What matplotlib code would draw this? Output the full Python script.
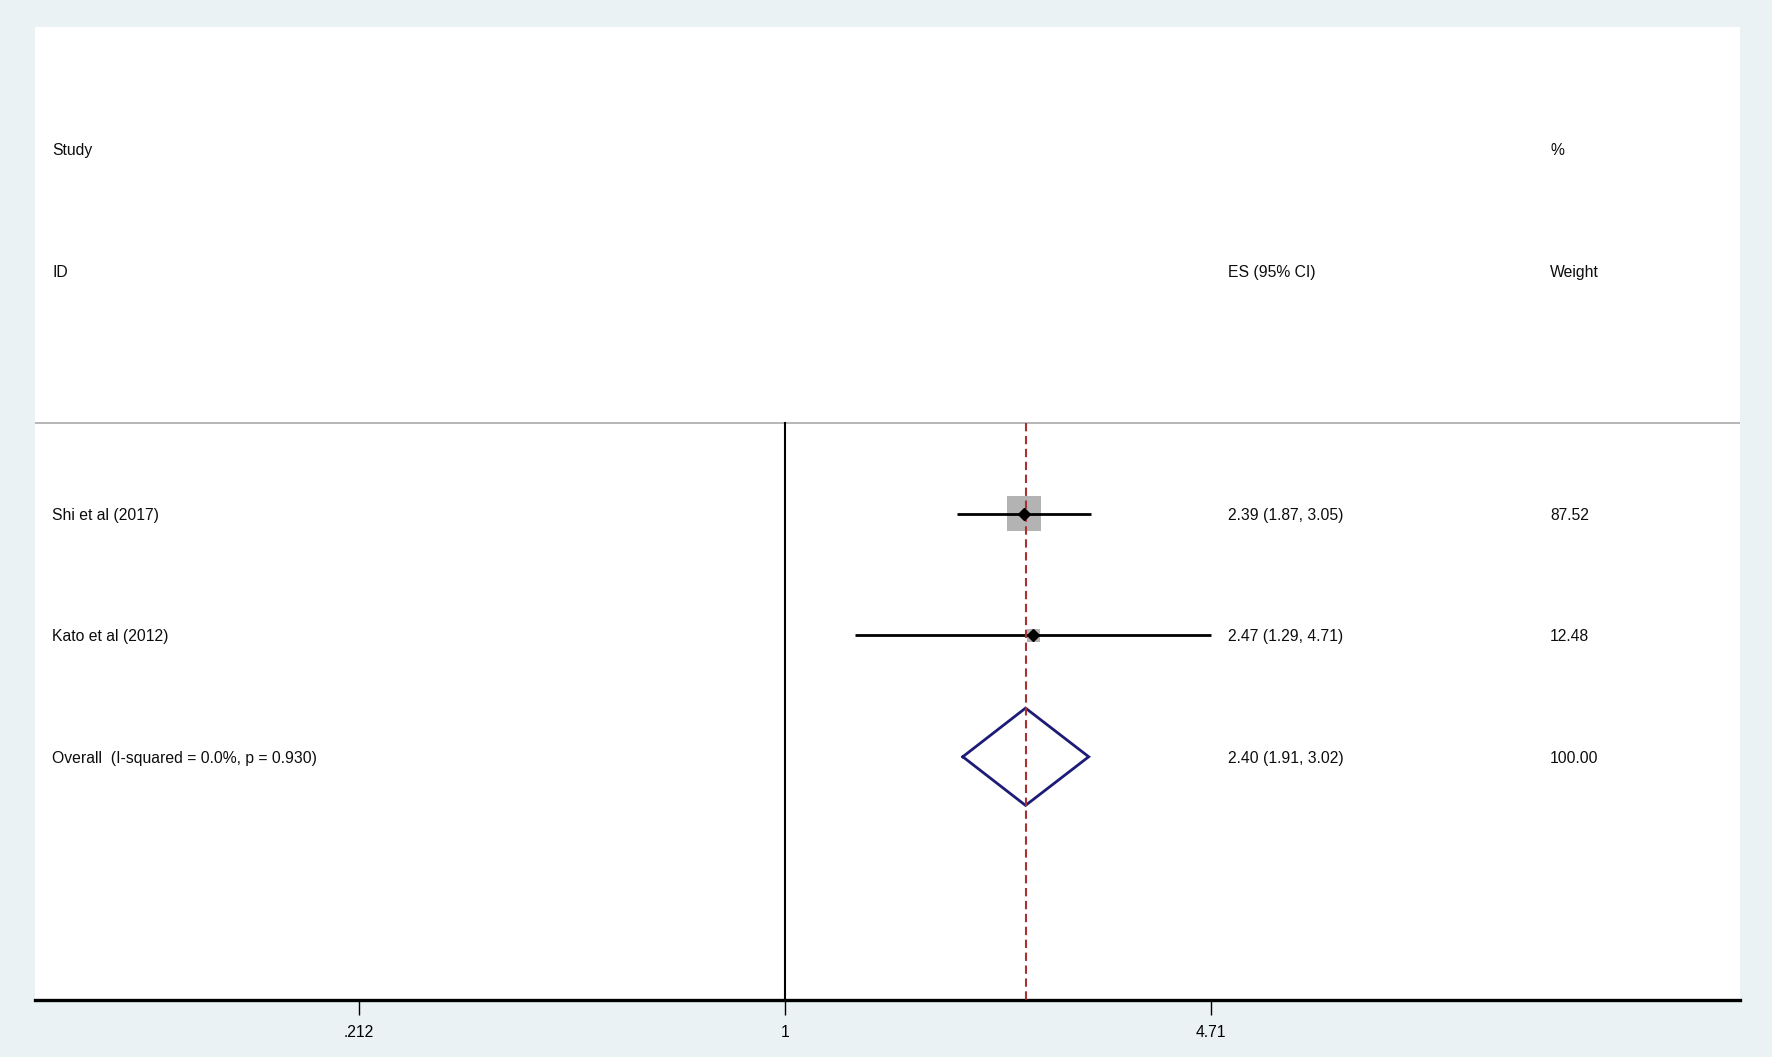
import matplotlib
matplotlib.use("Agg")
import matplotlib.pyplot as plt
import matplotlib.transforms as mtransforms
import numpy as np

plt.rcParams['font.family'] = ['Liberation Sans', 'DejaVu Sans']

# ---------------- data ----------------
studies = ["Shi et al (2017)", "Kato et al (2012)"]
es = [2.39, 2.47]
ci_low = [1.87, 1.29]
ci_high = [3.05, 4.71]
weights = [87.52, 12.48]

overall_label = "Overall  (I-squared = 0.0%, p = 0.930)"
overall_es = 2.40
overall_low = 1.91
overall_high = 3.02
overall_weight = 100.00

tick_values = [0.212, 1, 4.71]
tick_labels = [".212", "1", "4.71"]

header_top = ["Study", "", "%"]
header_bottom = ["ID", "ES (95% CI)", "Weight"]

# ---------------- layout ----------------
W, H = 1772, 1057
BG = "#EAF2F3"
fig = plt.figure(figsize=(W / 100, H / 100), dpi=100, facecolor=BG)
left_px, right_px, top_px, bot_px = 35, 1740, 27, 1000
ax = fig.add_axes([left_px / W, 1 - bot_px / H, (right_px - left_px) / W, (bot_px - top_px) / H])
ax.set_facecolor("white")
ax.set_xscale("log")
ax.set_xlim(0.0653, 32.3)
ax.set_ylim(5, -3)

for s in ["top", "left", "right"]:
    ax.spines[s].set_visible(False)
ax.spines["bottom"].set_linewidth(2.4)
ax.spines["bottom"].set_color("black")
ax.set_yticks([])
ax.xaxis.set_minor_locator(matplotlib.ticker.NullLocator())
ax.set_xticks(tick_values)
ax.set_xticklabels(tick_labels, fontsize=11.3)
ax.tick_params(axis="x", direction="out", length=11, width=1.0, pad=7, colors="black")

rows = np.arange(1, len(studies) + 1)
overall_row = len(studies) + 1
header_line_y = 0.26

# header separator
ax.axhline(header_line_y, color="#b5b5b5", lw=1.4, zorder=1)
# null line
ax.plot([1, 1], [header_line_y, 5], color="black", lw=1.5, zorder=2, clip_on=False)
# overall effect line
ax.plot([overall_es, overall_es], [header_line_y, 5], color="#a83232", lw=1.5,
        dashes=(4, 2.2), zorder=5, clip_on=False)

# weight squares
ax.scatter(es, rows, s=[w * 6.86 for w in weights], marker="s", color="#b3b3b3",
           linewidths=0, zorder=3)
# CI lines
for y, lo, hi in zip(rows, ci_low, ci_high):
    ax.plot([lo, hi], [y, y], color="black", lw=2.0, zorder=4, solid_capstyle="butt")
# point estimates
ax.plot(es, rows, linestyle="none", marker="D", color="black", markersize=6, zorder=6)

# overall diamond
dh = 0.4
ax.plot([overall_low, overall_es, overall_high, overall_es, overall_low],
        [overall_row, overall_row - dh, overall_row, overall_row + dh, overall_row],
        color="#1c1c78", lw=2.0, zorder=4, solid_joinstyle="miter")

# text columns (x in axes fraction, y in data)
tr = mtransforms.blended_transform_factory(ax.transAxes, ax.transData)
col_x = [0.010, 0.6997, 0.8886]
fs = 11.35
tc = "#0d0d0d"
dy = 0.015
for x, t in zip(col_x, header_top):
    if t:
        ax.text(x, -2 + dy, t, transform=tr, fontsize=fs, va="center", ha="left", color=tc)
for x, t in zip(col_x, header_bottom):
    ax.text(x, -1 + dy, t, transform=tr, fontsize=fs, va="center", ha="left", color=tc)

for y, name, e, lo, hi, w in zip(rows, studies, es, ci_low, ci_high, weights):
    ax.text(col_x[0], y + dy, name, transform=tr, fontsize=fs, va="center", ha="left", color=tc)
    ax.text(col_x[1], y + dy, f"{e:.2f} ({lo:.2f}, {hi:.2f})", transform=tr, fontsize=fs,
            va="center", ha="left", color=tc)
    ax.text(col_x[2], y + dy, f"{w:.2f}", transform=tr, fontsize=fs, va="center", ha="left", color=tc)

ax.text(col_x[0], overall_row + dy, overall_label, transform=tr, fontsize=fs, va="center",
        ha="left", color=tc)
ax.text(col_x[1], overall_row + dy, f"{overall_es:.2f} ({overall_low:.2f}, {overall_high:.2f})",
        transform=tr, fontsize=fs, va="center", ha="left", color=tc)
ax.text(col_x[2], overall_row + dy, f"{overall_weight:.2f}", transform=tr, fontsize=fs,
        va="center", ha="left", color=tc)

fig.savefig("out.png", dpi=100, facecolor=BG)
